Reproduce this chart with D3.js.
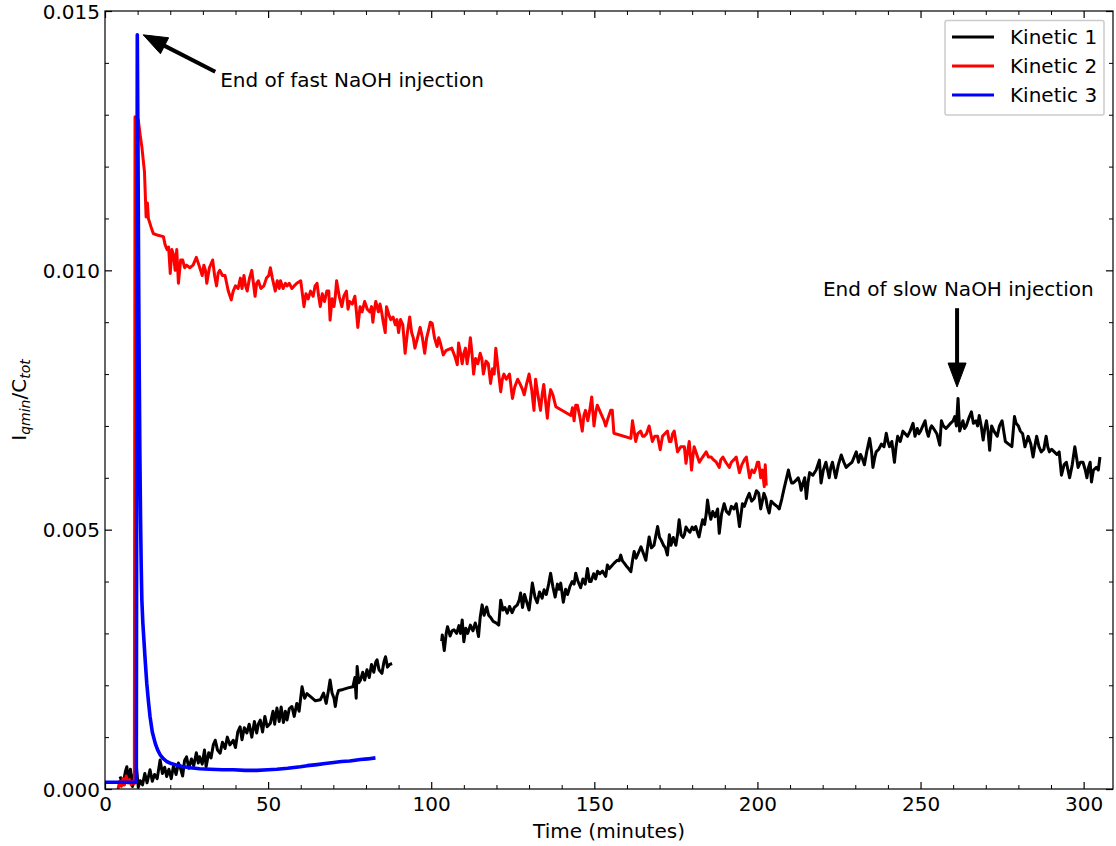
<!DOCTYPE html>
<html><head><meta charset="utf-8">
<script src="https://cdn.jsdelivr.net/npm/d3@7"></script>
<style>
html,body{margin:0;padding:0;background:#fff;}
svg{display:block;font-family:"DejaVu Sans",sans-serif;}
</style></head>
<body>
<svg id="chart" width="1116" height="846"></svg>
<script>
// ---------------- DATA ----------------
const seriesNames = ["Kinetic 1", "Kinetic 2", "Kinetic 3"];
const seriesColors = ["#000000", "#ff0000", "#0000ff"];
const xTicks = [0, 50, 100, 150, 200, 250, 300];
const yTicks = [0, 0.005, 0.010, 0.015];
const yTickLabels = ["0.000", "0.005", "0.010", "0.015"];
const xLabel = "Time (minutes)";

// Kinetic 1, first segment [time (min), Iqmin/Ctot]
const kinetic1A = [
[4.6,0.00024],[5.5,0.00008],[6.3,0.00035],[6.7,0.00043],[7.2,0.00012],[7.8,0.00038],[8.4,0.00005],[9.0,0.00030],[9.6,0.00045],[10.2,0.00003],
[10.8,0.00016],[11.5,0.00008],[12.2,0.00030],[12.9,0.00012],[13.8,0.00037],[14.5,0.00015],[15.2,0.00028],[16.0,0.00020],[16.9,0.00056],[17.6,0.00030],
[18.3,0.00042],[18.9,0.00024],[19.6,0.00038],[20.3,0.00020],[21.0,0.00045],[21.8,0.00028],[22.5,0.00050],[23.0,0.00043],[23.8,0.00025],[24.4,0.00055],
[25.0,0.00062],[25.7,0.00040],[26.5,0.00058],[27.2,0.00045],[28.0,0.00070],[28.6,0.00050],[29.0,0.00062],[29.8,0.00048],[30.5,0.00075],[31.0,0.00043],
[31.8,0.00070],[32.5,0.00060],[33.2,0.00085],[33.8,0.00094],[34.5,0.00075],[35.3,0.00069],[36.0,0.00090],[36.8,0.00078],[37.5,0.00100],[38.3,0.00085],
[39.3,0.00094],[40.0,0.00080],[40.7,0.00110],[41.4,0.00120],[42.0,0.00095],[42.7,0.00118],[43.5,0.00108],[44.2,0.00125],[45.0,0.00100],[45.8,0.00130],
[46.5,0.00108],[47.0,0.00125],[47.6,0.00133],[48.3,0.00110],[49.0,0.00140],[49.7,0.00120],[50.7,0.00127],[51.5,0.00150],[52.0,0.00125],[52.7,0.00156],
[53.4,0.00130],[54.0,0.00158],[54.7,0.00128],[55.3,0.00150],[55.8,0.00133],[56.5,0.00155],[57.3,0.00159],[58.0,0.00140],[58.8,0.00165],[59.5,0.00150],
[60.4,0.00197],[61.2,0.00175],[61.9,0.00184],[63.0,0.00178],[64.5,0.00170],[66.0,0.00172],[67.0,0.00185],[67.8,0.00165],[68.5,0.00190],[69.0,0.00210],
[69.6,0.00185],[70.2,0.00175],[70.6,0.00159],[71.1,0.00180],[71.6,0.00190],[73.0,0.00192],[74.5,0.00195],[76.0,0.00197],[76.6,0.00215],[77.0,0.00175],
[77.3,0.00236],[77.8,0.00205],[78.3,0.00210],[79.0,0.00225],[79.6,0.00210],[80.3,0.00230],[81.0,0.00215],[81.7,0.00240],[82.4,0.00225],[83.0,0.00245],
[83.4,0.00249],[84.0,0.00230],[84.9,0.00223],[85.5,0.00245],[86.0,0.00255],[86.6,0.00235],[87.2,0.00240],[88.0,0.00242]
];
// Kinetic 1, second segment
const kinetic1B = [
[103.2,0.00285],[103.4,0.00297],[104.0,0.00267],[104.6,0.00300],[105.0,0.00313],[105.8,0.00295],[106.4,0.00305],[107.0,0.00307],[107.8,0.00300],[108.5,0.00315],
[109.0,0.00300],[109.5,0.00326],[110.0,0.00284],[110.6,0.00310],[111.2,0.00300],[112.0,0.00316],[112.8,0.00305],[113.5,0.00320],[114.0,0.00310],[114.5,0.00294],
[115.0,0.00330],[115.6,0.00355],[116.2,0.00335],[117.0,0.00351],[117.6,0.00335],[118.3,0.00330],[119.0,0.00323],[120.0,0.00320],[120.7,0.00316],[121.3,0.00364],
[122.0,0.00345],[122.6,0.00350],[123.3,0.00339],[124.0,0.00352],[124.8,0.00340],[125.5,0.00350],[126.4,0.00355],[127.0,0.00365],[127.4,0.00378],[128.0,0.00350],
[128.6,0.00375],[129.3,0.00360],[130.0,0.00345],[130.5,0.00370],[131.0,0.00397],[131.8,0.00370],[132.5,0.00359],[133.2,0.00380],[134.0,0.00368],[134.6,0.00384],
[135.3,0.00375],[136.0,0.00395],[136.6,0.00416],[137.3,0.00390],[138.0,0.00370],[138.7,0.00395],[139.2,0.00385],[139.7,0.00397],[140.5,0.00360],[141.2,0.00385],
[141.8,0.00375],[142.5,0.00390],[143.2,0.00400],[143.8,0.00395],[144.3,0.00416],[145.0,0.00400],[145.8,0.00388],[146.5,0.00405],[147.2,0.00395],[147.9,0.00425],
[148.5,0.00400],[149.0,0.00400],[149.8,0.00415],[150.4,0.00405],[151.0,0.00420],[151.7,0.00415],[152.5,0.00420],[153.5,0.00410],[154.0,0.00432],[154.6,0.00425],
[155.3,0.00430],[156.0,0.00435],[157.0,0.00441],[157.6,0.00440],[158.1,0.00451],[158.6,0.00440],[159.0,0.00437],[159.8,0.00430],[160.5,0.00425],[161.2,0.00419],
[161.7,0.00440],[162.2,0.00458],[162.8,0.00445],[163.5,0.00455],[164.3,0.00467],[165.0,0.00455],[165.8,0.00441],[166.3,0.00465],[166.8,0.00486],[167.5,0.00465],
[168.3,0.00470],[168.9,0.00490],[169.4,0.00506],[170.0,0.00485],[170.5,0.00480],[171.2,0.00470],[171.8,0.00465],[172.4,0.00451],[173.0,0.00490],[173.5,0.00470],
[174.2,0.00485],[175.0,0.00470],[175.5,0.00490],[176.0,0.00519],[176.6,0.00490],[177.2,0.00485],[177.6,0.00490],[178.1,0.00505],[178.6,0.00500],[179.3,0.00495],
[180.0,0.00505],[180.5,0.00500],[181.1,0.00506],[181.6,0.00495],[182.1,0.00486],[182.7,0.00505],[183.2,0.00519],[183.8,0.00510],[184.3,0.00530],[184.7,0.00557],
[185.2,0.00535],[185.7,0.00520],[186.3,0.00535],[187.0,0.00525],[187.8,0.00540],[188.3,0.00493],[189.0,0.00530],[189.8,0.00550],[190.5,0.00535],[191.3,0.00530],
[192.0,0.00545],[192.8,0.00540],[193.5,0.00550],[194.0,0.00530],[194.5,0.00506],[195.0,0.00530],[195.4,0.00550],[196.0,0.00545],[196.8,0.00560],[197.5,0.00570],
[198.2,0.00555],[199.0,0.00560],[199.7,0.00575],[200.4,0.00570],[201.0,0.00540],[201.5,0.00555],[202.0,0.00570],[202.6,0.00560],[203.0,0.00545],[203.6,0.00532],
[204.2,0.00555],[205.0,0.00550],[206.0,0.00545],[206.7,0.00540],[207.5,0.00560],[208.2,0.00580],[208.8,0.00596],[209.5,0.00615],[210.0,0.00600],[210.5,0.00590],
[211.0,0.00590],[211.8,0.00595],[212.5,0.00600],[213.0,0.00590],[213.4,0.00576],[214.0,0.00590],[214.5,0.00600],[215.0,0.00560],[215.5,0.00590],[216.0,0.00610],
[217.0,0.00605],[218.0,0.00615],[219.0,0.00634],[219.5,0.00590],[220.2,0.00615],[221.0,0.00630],[221.5,0.00615],[222.0,0.00600],[222.5,0.00620],[223.0,0.00630],
[223.5,0.00615],[224.0,0.00600],[224.8,0.00625],[225.7,0.00644],[226.5,0.00630],[227.2,0.00620],[228.0,0.00625],[229.0,0.00630],[230.3,0.00650],[231.0,0.00630],
[231.6,0.00645],[232.0,0.00640],[232.8,0.00625],[233.5,0.00650],[234.4,0.00676],[235.0,0.00650],[235.4,0.00620],[236.0,0.00640],[236.4,0.00650],[237.2,0.00655],
[238.0,0.00665],[238.8,0.00660],[239.5,0.00686],[240.0,0.00670],[240.5,0.00660],[241.2,0.00670],[242.0,0.00630],[242.5,0.00660],[243.0,0.00680],[243.8,0.00670],
[244.6,0.00690],[245.3,0.00685],[246.0,0.00680],[246.8,0.00690],[247.7,0.00705],[248.3,0.00680],[249.0,0.00695],[249.5,0.00685],[250.0,0.00690],[250.7,0.00700],
[251.4,0.00710],[251.9,0.00690],[252.4,0.00680],[253.0,0.00695],[253.4,0.00700],[254.0,0.00695],[255.0,0.00685],[255.9,0.00663],[256.4,0.00710],[257.0,0.00700],
[257.8,0.00695],[258.5,0.00700],[259.2,0.00705],[260.0,0.00710],[260.5,0.00718],[261.0,0.00700],[261.5,0.00753],[262.0,0.00690],[262.5,0.00700],[263.0,0.00710],
[263.5,0.00695],[264.0,0.00700],[264.8,0.00715],[265.6,0.00727],[266.2,0.00705],[267.0,0.00710],[267.5,0.00700],[268.0,0.00720],[268.6,0.00700],[269.2,0.00673],
[269.7,0.00695],[270.2,0.00710],[270.7,0.00690],[271.2,0.00653],[271.8,0.00700],[272.5,0.00690],[273.5,0.00680],[274.2,0.00700],[275.0,0.00710],[275.5,0.00690],
[276.0,0.00670],[277.0,0.00665],[278.0,0.00660],[278.8,0.00718],[279.3,0.00705],[280.0,0.00700],[280.6,0.00690],[281.3,0.00685],[282.0,0.00660],[282.5,0.00670],
[283.0,0.00680],[283.8,0.00665],[284.5,0.00640],[285.0,0.00660],[285.6,0.00680],[286.3,0.00660],[287.0,0.00650],[287.8,0.00655],[288.5,0.00680],[289.0,0.00660],
[289.5,0.00650],[290.2,0.00655],[291.0,0.00650],[291.8,0.00645],[292.5,0.00650],[293.2,0.00605],[294.0,0.00625],[294.7,0.00630],[295.2,0.00615],[295.7,0.00600],
[296.5,0.00625],[297.3,0.00660],[297.8,0.00640],[298.3,0.00620],[299.0,0.00630],[299.8,0.00630],[300.5,0.00615],[301.0,0.00600],[301.5,0.00620],[302.0,0.00630],
[302.4,0.00592],[303.0,0.00615],[303.9,0.00620],[304.5,0.00615],[305.0,0.00640]
];
// Kinetic 2
const kinetic2 = [
[4.0,0.00000],[4.5,0.00015],[5.0,0.00005],[5.5,0.00020],[6.0,0.00008],[6.5,0.00025],[7.0,0.00012],[7.5,0.00018],[8.0,0.00008],[8.5,0.00015],
[9.0,0.00010],[9.2,0.01296],[10.2,0.01290],[10.8,0.01260],[11.3,0.01238],[12.1,0.01190],[12.6,0.01103],[13.0,0.01130],[13.3,0.01100],[13.8,0.01090],
[14.3,0.01080],[14.8,0.01071],[16.0,0.01068],[17.9,0.01065],[18.4,0.01050],[19.0,0.01040],[19.5,0.01045],[20.0,0.00994],[20.5,0.01040],[21.0,0.01030],
[21.5,0.01000],[22.0,0.01040],[22.5,0.00975],[23.2,0.01020],[23.8,0.01020],[24.4,0.01005],[25.0,0.01010],[26.0,0.01005],[27.0,0.01010],[28.0,0.01025],
[28.8,0.01010],[29.8,0.00990],[30.3,0.01010],[30.8,0.01000],[31.2,0.00975],[32.0,0.01005],[33.0,0.01020],[33.6,0.00990],[34.2,0.00970],[34.7,0.00995],
[35.2,0.01000],[36.0,0.00990],[36.8,0.00990],[37.8,0.00960],[38.7,0.00943],[39.3,0.00960],[40.0,0.00970],[40.8,0.00965],[41.5,0.00985],[42.0,0.00965],
[42.6,0.00990],[43.1,0.00970],[43.6,0.00960],[44.3,0.00985],[45.0,0.01000],[45.5,0.00975],[46.0,0.00950],[46.5,0.00975],[47.0,0.00980],[47.8,0.00965],
[48.7,0.00970],[49.5,0.00985],[50.2,0.00990],[50.7,0.01005],[51.3,0.00985],[52.2,0.00960],[52.8,0.00980],[53.4,0.00965],[53.8,0.00980],[54.6,0.00965],
[55.3,0.00975],[55.8,0.00970],[56.5,0.00975],[57.3,0.00965],[58.0,0.00970],[58.8,0.00975],[60.0,0.00980],[60.5,0.00955],[61.0,0.00930],[61.6,0.00955],
[62.3,0.00945],[63.0,0.00960],[63.8,0.00950],[64.4,0.00970],[65.0,0.00975],[65.5,0.00950],[66.0,0.00930],[66.6,0.00955],[67.3,0.00940],[68.0,0.00960],
[68.6,0.00960],[69.0,0.00904],[69.6,0.00945],[70.2,0.00930],[70.6,0.00950],[71.0,0.00980],[71.8,0.00950],[72.6,0.00930],[73.2,0.00950],[74.0,0.00960],
[74.5,0.00925],[75.0,0.00940],[75.8,0.00935],[76.6,0.00950],[77.0,0.00925],[77.5,0.00890],[78.2,0.00930],[78.8,0.00920],[79.6,0.00940],[80.4,0.00925],
[81.2,0.00920],[81.7,0.00930],[82.1,0.00900],[82.6,0.00925],[83.0,0.00940],[83.8,0.00920],[84.3,0.00935],[84.8,0.00920],[85.3,0.00900],[85.9,0.00880],
[86.3,0.00930],[87.0,0.00915],[87.6,0.00905],[88.3,0.00910],[89.0,0.00895],[89.5,0.00905],[90.0,0.00880],[90.6,0.00905],[91.3,0.00895],[92.0,0.00840],
[92.7,0.00880],[93.4,0.00910],[94.0,0.00880],[94.5,0.00870],[95.0,0.00850],[95.8,0.00870],[96.6,0.00890],[97.3,0.00870],[98.0,0.00840],[98.6,0.00870],
[99.2,0.00885],[99.7,0.00900],[100.3,0.00898],[101.0,0.00870],[101.8,0.00853],[102.3,0.00870],[102.8,0.00860],[103.7,0.00837],[104.5,0.00845],[105.5,0.00848],
[106.3,0.00850],[107.2,0.00835],[108.0,0.00818],[108.4,0.00860],[109.0,0.00840],[109.5,0.00820],[110.0,0.00840],[110.5,0.00850],[111.0,0.00820],[111.5,0.00840],
[112.0,0.00870],[112.5,0.00840],[113.0,0.00800],[113.6,0.00830],[114.3,0.00820],[115.0,0.00840],[115.5,0.00830],[116.0,0.00800],[116.8,0.00825],[117.5,0.00820],
[118.2,0.00782],[118.8,0.00810],[119.3,0.00800],[119.8,0.00850],[120.5,0.00810],[121.3,0.00766],[121.8,0.00790],[122.3,0.00800],[123.0,0.00790],[124.0,0.00800],
[124.9,0.00753],[125.6,0.00775],[126.5,0.00790],[127.3,0.00780],[128.0,0.00770],[128.5,0.00760],[129.2,0.00780],[130.0,0.00800],[130.8,0.00770],[131.5,0.00730],
[132.0,0.00790],[132.7,0.00760],[133.5,0.00730],[134.0,0.00760],[134.5,0.00780],[135.0,0.00750],[135.6,0.00715],[136.1,0.00750],[136.6,0.00770],[137.3,0.00760],
[138.2,0.00737],[142.8,0.00720],[143.3,0.00735],[143.8,0.00710],[144.3,0.00740],[144.8,0.00740],[145.5,0.00720],[146.3,0.00690],[146.8,0.00720],[147.3,0.00730],
[148.0,0.00710],[148.6,0.00730],[149.2,0.00756],[149.9,0.00700],[150.4,0.00725],[150.9,0.00740],[151.6,0.00730],[152.3,0.00720],[153.0,0.00710],[153.5,0.00700],
[154.2,0.00715],[155.0,0.00730],[155.5,0.00730],[156.0,0.00686],[161.2,0.00676],[161.7,0.00710],[162.2,0.00690],[162.7,0.00670],[163.3,0.00685],[164.2,0.00690],
[164.8,0.00680],[165.3,0.00680],[166.0,0.00685],[166.8,0.00700],[167.3,0.00685],[167.8,0.00670],[168.5,0.00680],[169.4,0.00680],[170.2,0.00654],[170.9,0.00680],
[171.6,0.00685],[172.4,0.00690],[173.0,0.00670],[173.5,0.00670],[174.0,0.00685],[174.5,0.00690],[175.0,0.00670],[175.5,0.00650],[176.5,0.00660],[177.6,0.00660],
[178.1,0.00628],[178.6,0.00650],[179.1,0.00670],[179.5,0.00640],[179.8,0.00615],[180.2,0.00640],[180.6,0.00660],[181.4,0.00645],[182.2,0.00630],[183.2,0.00640],
[184.3,0.00650],[185.0,0.00640],[185.8,0.00640],[186.5,0.00635],[187.4,0.00630],[188.3,0.00620],[188.8,0.00635],[189.4,0.00640],[190.3,0.00630],[191.4,0.00620],
[192.0,0.00630],[192.8,0.00635],[193.5,0.00640],[194.0,0.00625],[194.5,0.00610],[195.2,0.00625],[196.0,0.00635],[196.6,0.00640],[197.1,0.00620],[197.6,0.00600],
[198.3,0.00615],[199.0,0.00610],[199.6,0.00620],[200.0,0.00630],[200.4,0.00630],[201.0,0.00600],[201.5,0.00615],[202.1,0.00583],[202.4,0.00625],[202.7,0.00585]
];
// Kinetic 3
const kinetic3 = [
[0.0,0.00013],[9.6,0.00013],[9.9,0.01454],[10.1,0.01250],[10.3,0.01000],[10.5,0.00800],[10.7,0.00640],[10.9,0.00520],[11.1,0.00430],[11.3,0.00364],
[11.6,0.00320],[11.8,0.00300],[12.3,0.00250],[12.8,0.00204],[13.3,0.00170],[13.8,0.00140],[14.5,0.00110],[15.4,0.00088],[16.1,0.00076],[16.9,0.00066],
[17.8,0.00059],[18.9,0.00053],[20.3,0.00049],[22.0,0.00046],[24.0,0.00043],[26.1,0.00041],[29.0,0.00039],[32.2,0.00038],[36.0,0.00037],[39.3,0.00037],
[43.0,0.00036],[46.6,0.00036],[50.0,0.00037],[52.7,0.00038],[56.0,0.00040],[59.9,0.00043],[62.0,0.00045],[65.0,0.00047],[67.5,0.00049],[70.1,0.00051],
[72.5,0.00053],[75.0,0.00054],[78.3,0.00057],[80.5,0.00058],[82.9,0.00060]
];
// annotations: text, text anchor point (data), arrow start (data), arrow tip (data)
const annotTexts = ["End of fast NaOH injection", "End of slow NaOH injection"];
const annotTextPos = [[35.3, 0.01367], [220.1, 0.00964]];
const annotArrowFrom = [[33.8, 0.01383], [261.2, 0.00927]];
const annotArrowTo = [[11.7, 0.01454], [261.2, 0.00775]];

// ---------------- CHART ----------------
const M = {left: 105, right: 1113, top: 11, bottom: 789};
const svg = d3.select("#chart");
const x = d3.scaleLinear().domain([0, 309]).range([M.left, M.right]);
const y = d3.scaleLinear().domain([0, 0.015]).range([M.bottom, M.top]);
const FS = 20;

svg.append("defs").append("clipPath").attr("id", "clip")
  .append("rect").attr("x", M.left).attr("y", M.top)
  .attr("width", M.right - M.left).attr("height", M.bottom - M.top);

const line = d3.line().x(d => x(d[0])).y(d => y(d[1]));
const plot = svg.append("g").attr("clip-path", "url(#clip)");
const series = [[kinetic1A, kinetic1B], [kinetic2], [kinetic3]];
const widths = [3, 3, 3.6];
series.forEach((segs, i) => {
  segs.forEach(seg => {
    plot.append("path").datum(seg).attr("d", line)
      .attr("fill", "none").attr("stroke", seriesColors[i])
      .attr("stroke-width", widths[i]).attr("stroke-linejoin", "round").attr("stroke-linecap", "butt");
  });
});

// Axes with inward ticks on all sides
const majorLen = 7, minorLen = 4;
const xMinor = d3.range(0, 309, 10).filter(v => v % 50 !== 0);
const yMinor = d3.range(1, 15).filter(v => v % 5 !== 0).map(v => v / 1000);

function makeAxis(scale, orient) {
  return orient === "bottom" ? d3.axisBottom(scale) : orient === "top" ? d3.axisTop(scale) :
         orient === "left" ? d3.axisLeft(scale) : d3.axisRight(scale);
}
function axisSet(scale, orient, major, minor, labels) {
  const tr = {bottom: `translate(0,${M.bottom})`, top: `translate(0,${M.top})`,
              left: `translate(${M.left},0)`, right: `translate(${M.right},0)`}[orient];
  const gm = svg.append("g").attr("transform", tr)
    .call(makeAxis(scale, orient).tickValues(minor).tickSize(-minorLen).tickFormat(""));
  gm.select(".domain").remove();
  gm.selectAll(".tick line").attr("stroke", "#000").attr("stroke-width", 1);
  const gM = svg.append("g").attr("transform", tr)
    .call(makeAxis(scale, orient).tickValues(major).tickSize(-majorLen).tickPadding(majorLen + 6)
      .tickFormat(labels ? ((d, i) => labels[i]) : ""));
  gM.select(".domain").remove();
  gM.selectAll(".tick line").attr("stroke", "#000").attr("stroke-width", 1.2);
  gM.selectAll(".tick text").attr("font-family", "DejaVu Sans").attr("font-size", FS).attr("fill", "#000");
  return gM;
}
const gxB = axisSet(x, "bottom", xTicks, xMinor, xTicks.map(String));
gxB.selectAll(".tick text").attr("y", 8).attr("dy", "0.71em");
axisSet(x, "top", xTicks, xMinor, null);
const gyL = axisSet(y, "left", yTicks, yMinor, yTickLabels);
gyL.selectAll(".tick text").attr("x", -5).attr("dy", "0.36em");
axisSet(y, "right", yTicks, yMinor, null);

// frame
svg.append("rect").attr("x", M.left).attr("y", M.top)
  .attr("width", M.right - M.left).attr("height", M.bottom - M.top)
  .attr("fill", "none").attr("stroke", "#000").attr("stroke-width", 1.2);

// axis labels
svg.append("text").attr("x", (M.left + M.right) / 2).attr("y", 838)
  .attr("text-anchor", "middle").attr("font-size", FS).text(xLabel);
const yl = svg.append("text").attr("transform", `translate(26,${(M.top + M.bottom) / 2}) rotate(-90)`)
  .attr("text-anchor", "middle").attr("font-size", FS);
yl.append("tspan").text("I");
yl.append("tspan").attr("font-size", FS * 0.7).attr("font-style", "italic").attr("dy", 4).text("qmin");
yl.append("tspan").attr("dy", -4).text("/C");
yl.append("tspan").attr("font-size", FS * 0.7).attr("font-style", "italic").attr("dy", 4).text("tot");

// annotations
annotTexts.forEach((t, i) => {
  svg.append("text").attr("x", x(annotTextPos[i][0])).attr("y", y(annotTextPos[i][1]))
    .attr("dy", "0.36em").attr("font-size", FS).text(t);
  const x0 = x(annotArrowFrom[i][0]), y0 = y(annotArrowFrom[i][1]);
  const x1 = x(annotArrowTo[i][0]), y1 = y(annotArrowTo[i][1]);
  const dx = x1 - x0, dy = y1 - y0, L = Math.hypot(dx, dy);
  const ux = dx / L, uy = dy / L, px = -uy, py = ux;
  const headL = 24, headW = 9;
  const bx = x1 - ux * headL, by = y1 - uy * headL;
  svg.append("line").attr("x1", x0).attr("y1", y0).attr("x2", bx + ux * 2).attr("y2", by + uy * 2)
    .attr("stroke", "#000").attr("stroke-width", 4);
  svg.append("path").attr("d", `M${x1},${y1}L${bx + px * headW},${by + py * headW}L${bx - px * headW},${by - py * headW}Z`)
    .attr("fill", "#000").attr("stroke", "#000").attr("stroke-width", 1);
});

// legend
const lg = svg.append("g");
lg.append("rect").attr("x", 945).attr("y", 20.5).attr("width", 159).attr("height", 94.5)
  .attr("rx", 2).attr("fill", "#fff").attr("stroke", "#cccccc").attr("stroke-width", 1.5);
seriesNames.forEach((n, i) => {
  const yy = 37 + i * 29;
  lg.append("line").attr("x1", 952).attr("x2", 994).attr("y1", yy).attr("y2", yy)
    .attr("stroke", seriesColors[i]).attr("stroke-width", 3);
  lg.append("text").attr("x", 1010).attr("y", yy).attr("dy", "0.36em").attr("font-size", FS).text(n);
});
</script>
</body></html>
